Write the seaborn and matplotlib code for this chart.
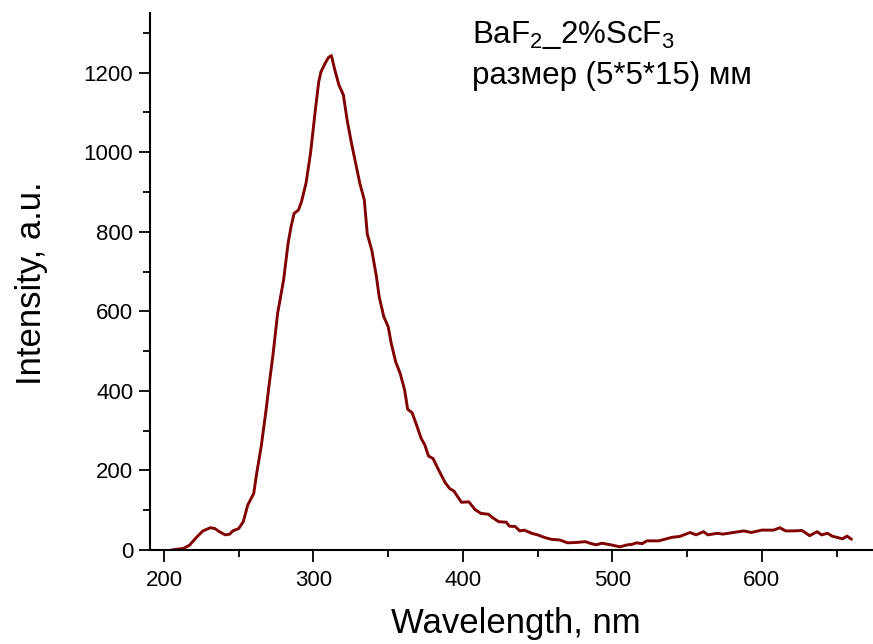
import numpy as np
import pandas as pd
import seaborn as sns
import matplotlib.pyplot as plt
from matplotlib.ticker import MultipleLocator

# wavelength (nm) and intensity (a.u.)
wavelength = [205, 213, 217, 222, 226, 231, 234, 237, 241, 244, 246, 250, 253, 256,
              260, 262, 265, 268, 270, 273, 276, 280, 283, 285, 287, 290, 292, 295,
              298, 301, 303.5, 305, 308, 310, 312, 314, 317, 320, 322.5, 325, 328, 331,
              334, 336, 339, 342, 344, 347, 350, 352, 355, 358, 361, 363, 366, 369,
              372, 374.5, 377, 380, 383.5, 388, 391, 394, 399, 404, 408, 412, 417,
              420, 424, 429, 431, 435, 438, 441, 446, 450, 455, 459, 465, 470, 476,
              482, 485, 489, 493, 499, 505, 510, 513, 516, 520, 523, 525, 531, 533,
              540, 545, 552, 556, 561, 564, 570, 574, 581, 588, 593, 600, 608, 612,
              616, 621, 627, 632, 637, 640, 644, 647, 654, 657, 660]
intensity = [0, 4, 12, 33, 48, 56, 54, 46, 38, 40, 48, 54, 71, 113,
             142, 193, 260, 344, 406, 494, 595, 679, 771, 813, 846, 855, 876, 922,
             997, 1098, 1177, 1202, 1225, 1238, 1243, 1211, 1169, 1144, 1081, 1031, 976, 922,
             880, 794, 754, 690, 636, 587, 561, 520, 473, 444, 402, 354, 345, 314,
             281, 264, 236, 230, 203, 170, 155, 148, 120, 121, 102, 92, 90,
             81, 71, 70, 60, 59, 48, 50, 42, 38, 31, 27, 25, 18, 19,
             21, 17, 13, 17, 13, 8, 13, 14, 18, 16, 23, 23, 23, 25,
             32, 34, 44, 38, 46, 38, 42, 40, 44, 48, 44, 50, 50, 56,
             48, 48, 49, 36, 46, 38, 42, 35, 28, 35, 27]

df = pd.DataFrame({'wl': wavelength, 'I': intensity})

sns.set_theme(style='ticks')
plt.rcParams['font.family'] = ['Liberation Sans', 'DejaVu Sans']
plt.rcParams['mathtext.fontset'] = 'custom'
plt.rcParams['mathtext.rm'] = 'Liberation Sans'
plt.rcParams['mathtext.default'] = 'rm'
plt.rcParams['text.color'] = 'black'
plt.rcParams['axes.labelcolor'] = 'black'

fig = plt.figure(figsize=(8.73, 6.44), dpi=100)
ax = fig.add_axes([150 / 873, 1 - 550 / 644, 1 - 150 / 873, (550 - 13) / 644])

sns.lineplot(data=df, x='wl', y='I', ax=ax, color='#800000', linewidth=2.1)

ax.set_xlim(190.6, 674.4)
ax.set_ylim(0, 1350)
ax.xaxis.set_minor_locator(MultipleLocator(50))
ax.yaxis.set_minor_locator(MultipleLocator(100))
ax.set_yticks(np.arange(0, 1201, 200))
ax.set_xticks(np.arange(200, 601, 100))

ax.tick_params(which='major', direction='out', length=8, width=1.3,
               labelsize=16, colors='black', pad=4)
ax.tick_params(axis='x', which='major', length=8.5, pad=6)
ax.tick_params(which='minor', direction='out', length=5, width=1.3, colors='black')
sns.despine(ax=ax)
for s in ['left', 'bottom']:
    ax.spines[s].set_linewidth(1.5)
    ax.spines[s].set_color('black')

ax.set_xlabel('Wavelength, nm', fontsize=25)
ax.set_ylabel('Intensity, a.u.', fontsize=25)
ax.xaxis.set_label_coords(0.506, -0.106)
ax.yaxis.set_label_coords(-0.141, 0.497)

fig.text(472 / 873, 1 - 43 / 644, r'BaF$_2$_2%ScF$_3$', fontsize=22.5, va='baseline')
fig.text(472 / 873, 1 - 84 / 644, 'размер (5*5*15) мм', fontsize=22.5, va='baseline')

fig.savefig('out.png', dpi=100)
